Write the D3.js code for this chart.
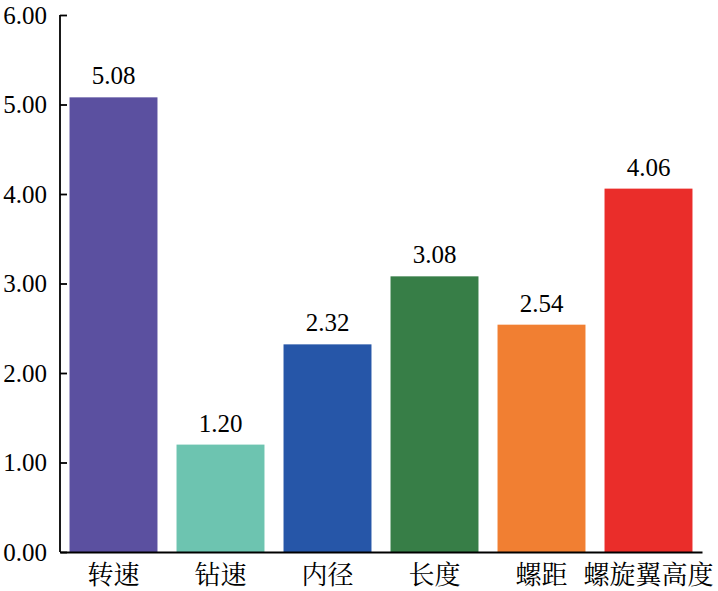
<!DOCTYPE html>
<html>
<head>
<meta charset="utf-8">
<script src="https://cdn.jsdelivr.net/npm/d3@7"></script>
</head>
<body style="margin:0">
<script>
// chart data
const categories = ["转速", "钻速", "内径", "长度", "螺距", "螺旋翼高度"];
const values = [5.08, 1.20, 2.32, 3.08, 2.54, 4.06];
const barColors = ["#5b50a0", "#6dc4b0", "#2656a8", "#377e47", "#f17f32", "#ea2d2a"];
const yTicks = [0, 1, 2, 3, 4, 5, 6];

const size = {width: 718, height: 591};
const margin = {top: 15, right: 16, bottom: 39, left: 60};
const width = size.width - margin.left - margin.right;
const height = size.height - margin.top - margin.bottom;

const numFont = d => "'Liberation Serif'";
const cjkFont = d => "'Noto Serif CJK SC'";

const svg = d3.select("body").append("svg")
    .attr("width", size.width)
    .attr("height", size.height)
    .append("g")
    .attr("transform", "translate(" + margin.left + "," + margin.top + ")");

const xScale = d3.scaleBand()
    .domain(categories)
    .range([0, width])
    .paddingInner(0.178)
    .paddingOuter(0.089);

const yScale = d3.scaleLinear()
    .domain([0, 6])
    .range([height, 0]);

// bars
svg.selectAll(".bar")
    .data(values)
    .join("rect")
    .attr("class", "bar")
    .attr("x", (d, i) => xScale(categories[i]))
    .attr("y", d => yScale(d))
    .attr("width", xScale.bandwidth())
    .attr("height", d => height - yScale(d))
    .attr("fill", (d, i) => barColors[i]);

// value labels
svg.selectAll(".valLabel")
    .data(values)
    .join("text")
    .attr("class", "valLabel")
    .attr("x", (d, i) => xScale(categories[i]) + xScale.bandwidth() / 2)
    .attr("y", d => yScale(d) - 13)
    .attr("text-anchor", "middle")
    .style("font-family", numFont)
    .style("font-size", "25px")
    .text(d => d.toFixed(2));

// y axis, ticks pointing inward
const leftAxis = d3.axisLeft(yScale)
    .tickValues(yTicks)
    .tickSize(-7)
    .tickPadding(20)
    .tickFormat(d3.format(".2f"));

const yAxisG = svg.append("g").attr("class", "yAxisG").call(leftAxis);
yAxisG.select(".domain").attr("d", "M0," + yScale(6) + "V" + height).attr("stroke-width", 1.8);
yAxisG.selectAll(".tick line").attr("stroke-width", 1.8);
yAxisG.selectAll(".tick text")
    .attr("x", -13)
    .attr("fill", "#000")
    .style("font-family", numFont)
    .style("font-size", "25px");

// x axis
const bottomAxis = d3.axisBottom(xScale).tickSize(0).tickPadding(14);
const xAxisG = svg.append("g")
    .attr("class", "xAxisG")
    .attr("transform", "translate(0," + height + ")")
    .call(bottomAxis);
xAxisG.select(".domain").attr("stroke-width", 2.2);
xAxisG.selectAll(".tick text")
    .attr("fill", "#000")
    .style("font-family", cjkFont)
    .style("font-size", "26px");
</script>
</body>
</html>
